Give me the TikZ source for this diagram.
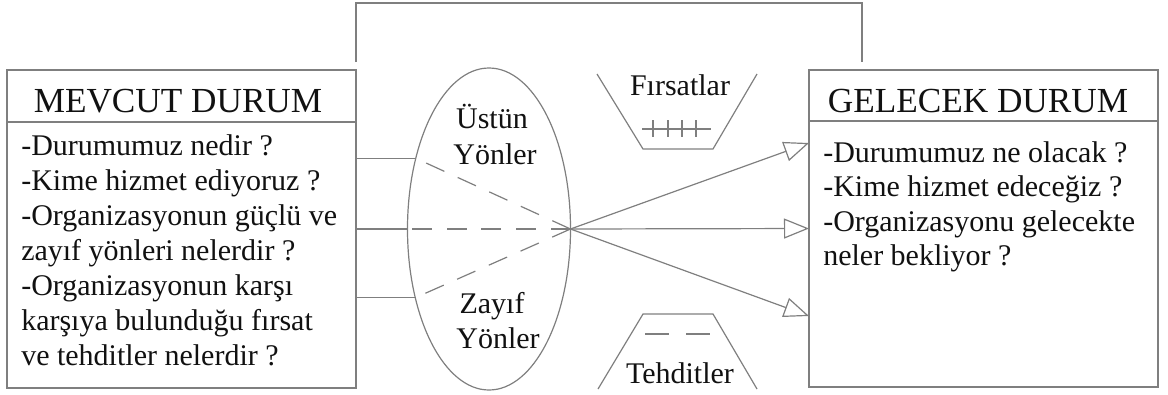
\documentclass[tikz,border=0pt]{standalone}
\usepackage{fontspec}
\setmainfont{Liberation Serif}
\usetikzlibrary{shapes.geometric,arrows.meta,calc}
\definecolor{ln}{HTML}{7F7F7F}
\definecolor{txt}{HTML}{111111}
\tikzset{
  boxline/.style={draw=ln, line width=1.1pt},
  thin line/.style={draw=ln, line width=0.9pt},
  dline/.style={draw=ln, line width=0.9pt, dash pattern=on 15pt off 11pt},
  arr/.style={draw=ln, line width=0.9pt, -{Triangle[open, length=18.75pt, width=15pt]}},
  bodytxt/.style={anchor=base west, inner sep=0pt, text=txt, font=\fontsize{22.5}{26}\selectfont},
  headtxt/.style={anchor=base, inner sep=0pt, text=txt, font=\fontsize{26.4}{30}\selectfont},
  eltxt/.style={anchor=base, inner sep=0pt, text=txt, font=\fontsize{22.5}{26}\selectfont},
}
\begin{document}
\begin{tikzpicture}[x=0.75pt,y=-0.75pt]
\useasboundingbox (0,0) rectangle (1168,394);
% boxes
\node[boxline, rectangle, inner sep=0pt, outer sep=0pt, minimum width=261.75pt, minimum height=238.5pt] (mevcut) at (181.5,229) {};
\node[boxline, rectangle, inner sep=0pt, outer sep=0pt, minimum width=261.75pt, minimum height=237.75pt] (gelecek) at (983.5,228.5) {};
\draw[boxline] ($(mevcut.north west)+(0,52)$) -- ($(mevcut.north east)+(0,52)$);
\draw[boxline] ($(gelecek.north west)+(0,51)$) -- ($(gelecek.north east)+(0,51)$);
% top connector
\coordinate (tl) at ($(mevcut.north east)+(0,-8)$);
\coordinate (tr) at ($(gelecek.north west)+(53,-8)$);
\draw[boxline] (tl) -- ++(0,-59) -| (tr);
% headers
\node[headtxt] (hm) at (178,112) {MEVCUT DURUM};
\node[headtxt] (hg) at (978,112) {GELECEK DURUM};
% left body
\node[bodytxt] (l1) at (21,155) {-Durumumuz nedir ?};
\node[bodytxt] (l2) at (21,190) {-Kime hizmet ediyoruz ?};
\node[bodytxt] (l3) at (21,225) {-Organizasyonun güçlü ve};
\node[bodytxt] (l4) at (21,260) {zayıf yönleri nelerdir ?};
\node[bodytxt] (l5) at (21,295) {-Organizasyonun karşı};
\node[bodytxt] (l6) at (21,330) {karşıya bulunduğu fırsat};
\node[bodytxt] (l7) at (21,365) {ve tehditler nelerdir ?};
% right body
\node[bodytxt] (r1) at (823,162) {-Durumumuz ne olacak ?};
\node[bodytxt] (r2) at (823,196.5) {-Kime hizmet edeceğiz ?};
\node[bodytxt] (r3) at (823,231) {-Organizasyonu gelecekte};
\node[bodytxt] (r4) at (823,265.5) {neler bekliyor ?};
% ellipse
\node[thin line, ellipse, inner sep=0pt, outer sep=0pt, minimum width=122.25pt, minimum height=241.5pt] (el) at (489,229) {};
\node[eltxt] (u1) at (492,128) {Üstün};
\node[eltxt] (u2) at (495,164) {Yönler};
\node[eltxt] (z1) at (492,313) {Zayıf};
\node[eltxt] (z2) at (498,348) {Yönler};
\coordinate (c) at (el.east);
\coordinate (e1) at (el.136.85);
\coordinate (e2) at (el.west);
\coordinate (e3) at (el.223.15);
% lines from left box
\draw[thin line] (mevcut.east |- e1) -- (e1);
\draw[thin line] (mevcut.east |- e2) -- (e2);
\draw[thin line] (mevcut.east |- e3) -- (e3);
\draw[dline] (c) -- (e1);
\draw[dline] (c) -- (e2);
\draw[dline] (c) -- (e3);
% arrows to right box
\coordinate (a1) at ($(gelecek.west)+(0,-85.5)$);
\coordinate (a2) at (gelecek.west);
\coordinate (a3) at ($(gelecek.west)+(0,87.5)$);
\draw[arr] (c) -- (a1);
\draw[arr] (c) -- (a2);
\draw[arr] (c) -- (a3);
% Firsatlar
\draw[thin line] (597,74) -- (643,149) -- (713,149) -- (757,74);
\draw[thin line] (642,129) -- (711,129);
\foreach \tx in {653,668,682,696} \draw[thin line] (\tx,120) -- (\tx,137);
\node[eltxt] (fi) at (680,95) {Fırsatlar};
% Tehditler
\draw[thin line] (598,389) -- (643,314) -- (713,314) -- (757,389);
\draw[thin line] (645,334) -- (669,334);
\draw[thin line] (686,334) -- (710,334);
\node[eltxt] (te) at (680,383) {Tehditler};
\end{tikzpicture}
\end{document}
